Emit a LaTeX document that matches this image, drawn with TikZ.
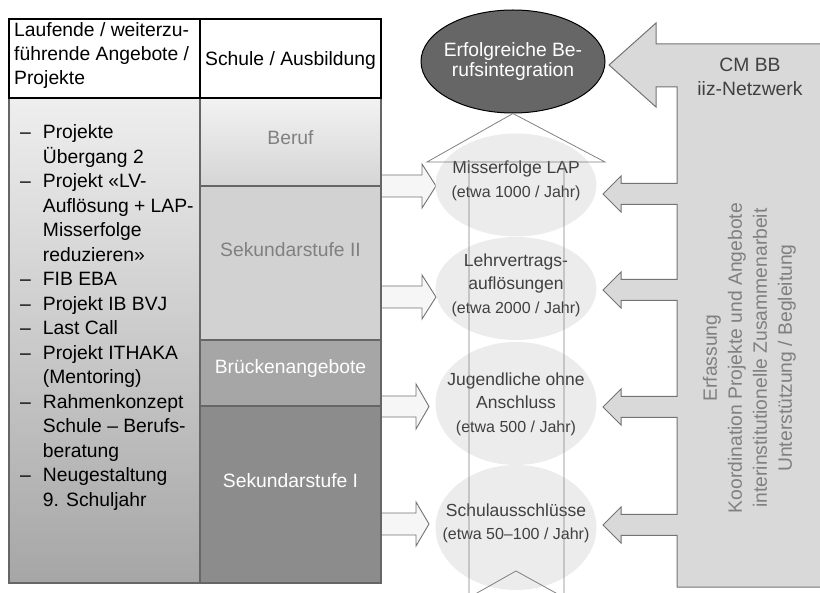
\documentclass[tikz,border=0pt]{standalone}
\usepackage{fontspec}
\setmainfont{Liberation Sans}
\usetikzlibrary{shapes.geometric}

\begin{document}
\begin{tikzpicture}[x=1pt,y=-1pt]
\tikzstyle{hcell}=[rectangle, draw=black, line width=1.6pt, fill=white, inner sep=0pt]
\tikzstyle{cell}=[rectangle, draw=black!60, line width=1.2pt, inner sep=0pt]
\tikzstyle{ctext}=[inner sep=0pt, font=\fontsize{19.3}{24}\selectfont]
\tikzstyle{oval}=[ellipse, fill=gray!15, inner sep=0pt, minimum width=161pt]
\tikzstyle{otext}=[align=center, inner sep=0pt, text=black!75, font=\fontsize{17.5}{23.5}\selectfont]
\tikzstyle{blockarr}=[draw=black!55, fill=gray!7, line width=0.9pt]
\tikzstyle{bigarr}=[draw=black!55, fill=gray!30, line width=1pt]

\useasboundingbox (0,0) rectangle (820,593);
\clip (0,0) rectangle (820,593);

% arrows from the table
\draw[blockarr] (381,175) -- (422,175) -- (422,164) -- (436,186) -- (422,208) -- (422,197) -- (381,197) -- cycle;
\draw[blockarr] (381,286) -- (422,286) -- (422,275) -- (436,297) -- (422,319) -- (422,308) -- (381,308) -- cycle;
\draw[blockarr] (381,396) -- (416,396) -- (416,384) -- (429,406.5) -- (416,429) -- (416,417) -- (381,417) -- cycle;
\draw[blockarr] (381,513) -- (416,513) -- (416,502) -- (429,524) -- (416,546) -- (416,535) -- (381,535) -- cycle;

% table
\node[cell, minimum width=191pt, minimum height=485pt, top color=gray!13, bottom color=gray!70] (lbody) at (104.5,340.5) {};
\node[cell, minimum width=181pt, minimum height=88pt, top color=gray!10, bottom color=gray!33] (beruf) at (290.5,142) {};
\node[cell, minimum width=181pt, minimum height=154pt, fill=gray!35] (sek2) at (290.5,263) {};
\node[cell, minimum width=181pt, minimum height=66pt, fill=gray!70] (bruecke) at (290.5,373) {};
\node[cell, minimum width=181pt, minimum height=177pt, fill=gray!90] (sek1) at (290.5,494.5) {};
\node[hcell, minimum width=191pt, minimum height=79pt] (hleft) at (104.5,58.5) {};
\node[hcell, minimum width=181pt, minimum height=79pt] (hright) at (290.5,58.5) {};

\node[ctext, anchor=base west] (hleftt) at (14,37) {\begin{tabular}[t]{@{}l@{}}Laufende / weiterzu-\\führende Angebote /\\Projekte\end{tabular}};
\node[ctext, anchor=base] (hrightt) at (290.5,66) {Schule / Ausbildung};

\node[ctext, text=gray] (beruft) at ([yshift=4pt]beruf.center) {Beruf};
\node[ctext, text=gray] (sek2t) at ([yshift=13pt]sek2.center) {Sekundarstufe II};
\node[ctext, text=white] (brueckent) at ([yshift=4pt]bruecke.center) {Brückenangebote};
\node[ctext, text=white] (sek1t) at ([yshift=13.5pt]sek1.center) {Sekundarstufe I};

\node[ctext, anchor=base west, font=\fontsize{19.3}{24.5}\selectfont] (list) at (20,139) {\begin{tabular}[t]{@{}l@{\hspace{12pt}}l@{}}
– & Projekte\\
  & Übergang 2\\
– & Projekt «LV-\\
  & Auflösung + LAP-\\
  & Misserfolge\\
  & reduzieren»\\
– & FIB EBA\\
– & Projekt IB BVJ\\
– & Last Call\\
– & Projekt ITHAKA\\
  & (Mentoring)\\
– & Rahmenkonzept\\
  & Schule – Berufs-\\
  & beratung\\
– & Neugestaltung\\
  & 9. Schuljahr
\end{tabular}};

% groups of young people
\node[oval, minimum height=103pt] (lap) at (516,185) {};
\node[oval, minimum height=103pt] (lv) at (516,288.5) {};
\node[oval, minimum height=123pt] (ohne) at (516,403.5) {};
\node[oval, minimum height=125pt] (aus) at (516,527.5) {};

\node[otext] (lapt) at (516,181) {Misserfolge LAP\\{\fontsize{16}{23.5}\selectfont(etwa 1000 / Jahr)}};
\node[otext] (lvt) at (516,285) {Lehrvertrags-\\auflösungen\\{\fontsize{16}{23.5}\selectfont(etwa 2000 / Jahr)}};
\node[otext] (ohnet) at (516,404) {Jugendliche ohne\\Anschluss\\{\fontsize{16}{23.5}\selectfont(etwa 500 / Jahr)}};
\node[otext] (aust) at (516,523.5) {Schulausschlüsse\\{\fontsize{16}{23.5}\selectfont(etwa 50–100 / Jahr)}};

% goal
\node[ellipse, draw=black, line width=1pt, fill=black!60, minimum width=184pt, minimum height=103pt, inner sep=0pt] (goal) at (513,61.5) {};
\node[ctext, text=white, align=center, font=\fontsize{19.3}{20}\selectfont] (goalt) at (goal) {Erfolgreiche Be-\\rufsintegration};

% upward arrow
\draw[gray, line width=0.8pt] (427,162) -- (goal.south) -- (605,162) -- cycle;
\draw[gray, line width=0.8pt] (469,162) -- (469,597.5) -- (516,571) -- (564,597.5) -- (564,162);

% CM BB
\draw[bigarr] (830,44) -- (656,44) -- (656,23) -- (609,65) -- (656,107) -- (656,87) -- (677,87)
  -- (677,183.5) -- (621,183.5) -- (621,176) -- (603,194) -- (621,212) -- (621,204.5) -- (677,204.5)
  -- (677,279.5) -- (621,279.5) -- (621,272) -- (603,290) -- (621,308) -- (621,300.5) -- (677,300.5)
  -- (677,396.5) -- (621,396.5) -- (621,389) -- (603,407) -- (621,425) -- (621,417.5) -- (677,417.5)
  -- (677,514.5) -- (621,514.5) -- (621,507) -- (603,525) -- (621,543) -- (621,535.5) -- (677,535.5)
  -- (677,587) -- (830,587) -- cycle;

\node[ctext, text=black!75, align=center] (cm) at (750,77) {CM BB\\iiz-Netzwerk};
\node[ctext, text=gray, align=center, rotate=90, font=\fontsize{19.3}{25}\selectfont] (tasks) at (749.5,358) {Erfassung\\Koordination Projekte und Angebote\\interinstitutionelle Zusammenarbeit\\Unterstützung / Begleitung};

\end{tikzpicture}
\end{document}
